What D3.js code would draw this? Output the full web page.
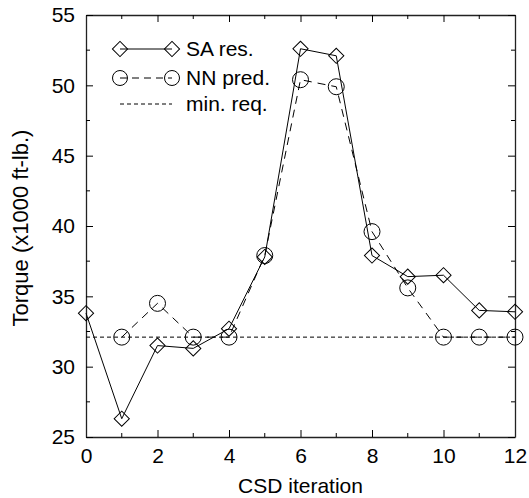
<!DOCTYPE html>
<html>
<head>
<meta charset="utf-8">
<script src="https://cdn.jsdelivr.net/npm/d3@7"></script>
<style>
  body { margin: 0; background: #fff; }
  text { font-family: "Liberation Sans", Arial, sans-serif; fill: #000; }
</style>
</head>
<body>
<div id="chart"></div>
<script>
const iterations = [0, 1, 2, 3, 4, 5, 6, 7, 8, 9, 10, 11, 12];
const saRes = [33.8, 26.3, 31.5, 31.3, 32.7, 37.8, 52.6, 52.1, 37.9, 36.4, 36.5, 34.0, 33.9];
const nnIterations = [1, 2, 3, 4, 5, 6, 7, 8, 9, 10, 11, 12];
const nnPred = [32.1, 34.5, 32.1, 32.1, 37.9, 50.4, 49.9, 39.6, 35.6, 32.1, 32.1, 32.1];
const minReq = 32.1;
const xTicks = [0, 2, 4, 6, 8, 10, 12];
const yTicks = [25, 30, 35, 40, 45, 50, 55];
const legendLabels = ["SA res.", "NN pred.", "min. req."];

const size = {
  width: 529,
  height: 498,
  left: 86,
  right: 515,
  top: 15,
  bottom: 437,
  font: "21px"
}

const svg = d3.select("#chart").append("svg")
  .attr("width", size.width)
  .attr("height", size.height);

const x = d3.scaleLinear().domain([0, 12]).range([size.left, size.right]);
const y = d3.scaleLinear().domain([25, 55]).range([size.bottom, size.top]);

function drawAxis(gen, transform, showLabels) {
  const g = svg.append("g").attr("transform", transform).call(gen);
  g.select(".domain").attr("stroke", "#222").attr("stroke-width", 1.3);
  g.selectAll(".tick line").attr("stroke", "#000");
  g.selectAll(".tick text").style("font-size", size.font);
  if (!showLabels) g.selectAll(".tick text").remove();
  return g;
}

// ticks point inward on all four sides
drawAxis(d3.axisBottom(x).tickValues(xTicks).tickSizeInner(-7).tickSizeOuter(0).tickPadding(11),
  `translate(0,${size.bottom})`, true);
drawAxis(d3.axisTop(x).tickValues(xTicks).tickSizeInner(-7).tickSizeOuter(0),
  `translate(0,${size.top})`, false);
drawAxis(d3.axisLeft(y).tickValues(yTicks).tickSizeInner(-7).tickSizeOuter(0).tickPadding(11),
  `translate(${size.left},0)`, true);
drawAxis(d3.axisRight(y).tickValues(yTicks).tickSizeInner(-7).tickSizeOuter(0),
  `translate(${size.right},0)`, false);

// minor ticks
const minorX = d3.range(0, 12.01, 1).filter(v => !xTicks.includes(v));
const minorY = d3.range(25, 55.01, 2.5).filter(v => !yTicks.includes(v));
[size.bottom, size.top].forEach(edge => {
  const dir = edge === size.bottom ? -4 : 4;
  svg.append("g").selectAll("line").data(minorX).join("line")
    .attr("x1", d => x(d)).attr("x2", d => x(d))
    .attr("y1", edge).attr("y2", edge + dir).attr("stroke", "#000");
});
[size.left, size.right].forEach(edge => {
  const dir = edge === size.left ? 4 : -4;
  svg.append("g").selectAll("line").data(minorY).join("line")
    .attr("y1", d => y(d)).attr("y2", d => y(d))
    .attr("x1", edge).attr("x2", edge + dir).attr("stroke", "#000");
});

// axis titles
svg.append("text")
  .attr("x", (size.left + size.right) / 2)
  .attr("y", 493)
  .attr("text-anchor", "middle")
  .style("font-size", size.font)
  .text("CSD iteration");
svg.append("text")
  .attr("transform", `translate(28,228) rotate(-90)`)
  .attr("text-anchor", "middle")
  .style("font-size", "22px")
  .text("Torque (x1000 ft-lb.)");

// min req line
svg.append("line")
  .attr("x1", x(0)).attr("x2", x(12))
  .attr("y1", y(minReq)).attr("y2", y(minReq))
  .attr("stroke", "#000").attr("stroke-dasharray", "4,3");

const diamond = d3.symbol().type(d3.symbolSquare).size(115);
const line = d3.line();

// SA res
const saPts = iterations.map((it, i) => [x(it), y(saRes[i])]);
svg.append("path").attr("d", line(saPts))
  .attr("fill", "none").attr("stroke", "#000");
svg.append("g").selectAll("path").data(saPts).join("path")
  .attr("d", diamond)
  .attr("transform", d => `translate(${d[0]},${d[1]}) rotate(45)`)
  .attr("fill", "none").attr("stroke", "#000");

// NN pred
const nnPts = nnIterations.map((it, i) => [x(it), y(nnPred[i])]);
svg.append("path").attr("d", line(nnPts))
  .attr("fill", "none").attr("stroke", "#000").attr("stroke-dasharray", "8,6");
svg.append("g").selectAll("circle").data(nnPts).join("circle")
  .attr("cx", d => d[0]).attr("cy", d => d[1]).attr("r", 8)
  .attr("fill", "none").attr("stroke", "#000");

// legend
const legend = svg.append("g");
const lx1 = 120, lx2 = 172, ly = [49, 78, 104];
legend.append("line").attr("x1", lx1).attr("x2", lx2).attr("y1", ly[0]).attr("y2", ly[0]).attr("stroke", "#000");
[lx1, lx2].forEach(px => legend.append("path").attr("d", diamond)
  .attr("transform", `translate(${px},${ly[0]}) rotate(45)`)
  .attr("fill", "none").attr("stroke", "#000"));
legend.append("line").attr("x1", lx1).attr("x2", lx2).attr("y1", ly[1]).attr("y2", ly[1])
  .attr("stroke", "#000").attr("stroke-dasharray", "7,5");
[lx1, lx2].forEach(px => legend.append("circle").attr("cx", px).attr("cy", ly[1]).attr("r", 7.5)
  .attr("fill", "none").attr("stroke", "#000"));
legend.append("line").attr("x1", lx1).attr("x2", lx2).attr("y1", ly[2]).attr("y2", ly[2])
  .attr("stroke", "#000").attr("stroke-dasharray", "4,3");
legendLabels.forEach((t, i) => legend.append("text")
  .attr("x", 186).attr("y", ly[i]).attr("dy", "0.35em")
  .style("font-size", size.font).text(t));
</script>
</body>
</html>
